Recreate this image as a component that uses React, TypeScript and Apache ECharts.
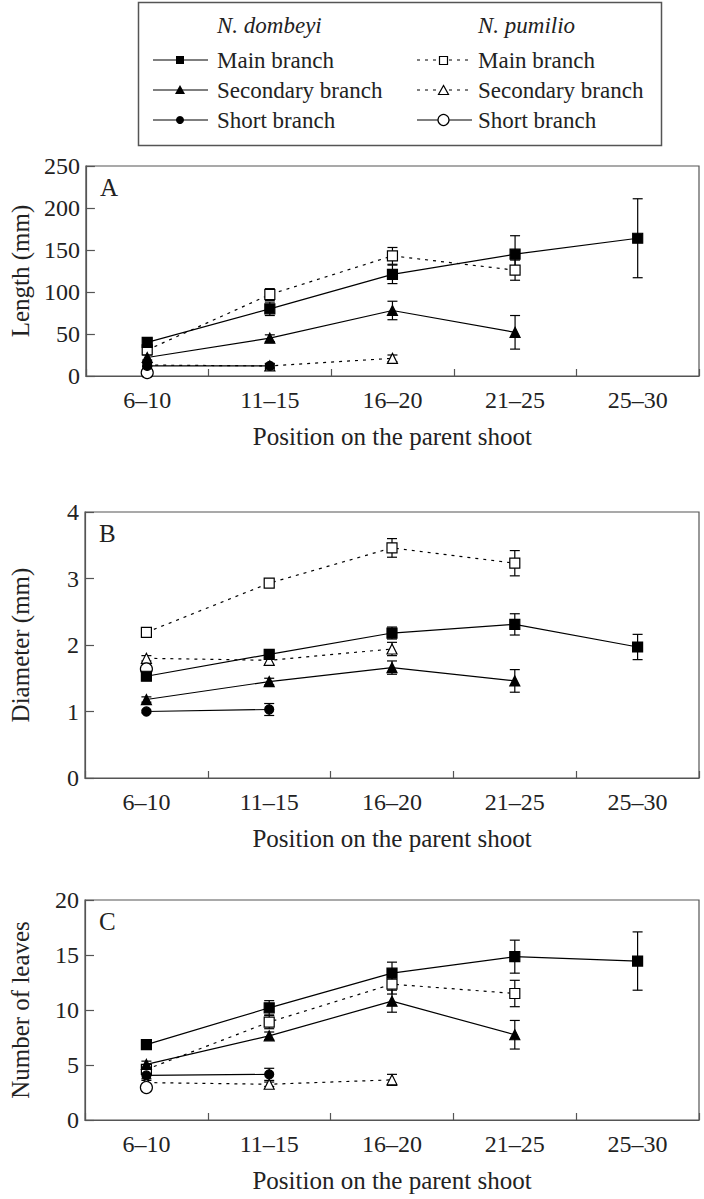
import React, { useEffect, useRef } from "react";
import * as echarts from "echarts";

const categories = ["6–10", "11–15", "16–20", "21–25", "25–30"];

// Panel A: Length (mm)
const dMainA = [40, 80, 121, 145, 164];
const dMainErrA = [4, 8, 11, 22, 47];
const dSecA = [22, 45, 78, 52];
const dSecErrA = [3, 4, 11, 20];
const dShortA = [12, 12];
const dShortErrA = [1, 3];
const pMainA = [31, 97, 143, 126];
const pMainErrA = [3, 7, 10, 12];
const pSecA = [13, 12, 21];
const pSecErrA = [2, 2, 4];
const pShortA = [4];
const pShortErrA = [1];

// Panel B: Diameter (mm)
const dMainB = [1.53, 1.86, 2.18, 2.31, 1.97];
const dMainErrB = [0.04, 0.05, 0.09, 0.16, 0.19];
const dSecB = [1.18, 1.45, 1.66, 1.46];
const dSecErrB = [0.04, 0.05, 0.1, 0.17];
const dShortB = [1.0, 1.03];
const dShortErrB = [0.02, 0.09];
const pMainB = [2.19, 2.93, 3.46, 3.23];
const pMainErrB = [0.04, 0.06, 0.14, 0.19];
const pSecB = [1.8, 1.77, 1.94];
const pSecErrB = [0.04, 0.06, 0.1];
const pShortB = [1.64];
const pShortErrB = [0.03];

// Panel C: Number of leaves
const dMainC = [6.85, 10.2, 13.35, 14.85, 14.45];
const dMainErrC = [0.3, 0.65, 1.0, 1.5, 2.65];
const dSecC = [5.05, 7.65, 10.8, 7.75];
const dSecErrC = [0.3, 0.35, 1.0, 1.3];
const dShortC = [4.05, 4.15];
const dShortErrC = [0.3, 0.55];
const pMainC = [4.6, 8.9, 12.35, 11.5];
const pMainErrC = [0.4, 0.6, 0.9, 1.2];
const pSecC = [3.4, 3.25, 3.65];
const pSecErrC = [0.2, 0.2, 0.5];
const pShortC = [2.95];
const pShortErrC = [0.3];

const yMaxes = [250, 4, 20];
const yIntervals = [50, 1, 5];
const yNames = ["Length (mm)", "Diameter (mm)", "Number of leaves"];
const panelLetters = ["A", "B", "C"];
const xName = "Position on the parent shoot";

const FONT = "Liberation Serif, Times New Roman, serif";
const TEXT = "#222";
const FRAME = "#555";

type SeriesDef = {
  values: number[];
  errs: number[];
  symbol: string;
  size: number;
  open: boolean;
  dotted: boolean;
};

function panelSeries(
  dMain: number[], dMainErr: number[], dSec: number[], dSecErr: number[],
  dShort: number[], dShortErr: number[], pMain: number[], pMainErr: number[],
  pSec: number[], pSecErr: number[], pShort: number[], pShortErr: number[]
): SeriesDef[] {
  return [
    { values: pMain, errs: pMainErr, symbol: "rect", size: 10, open: true, dotted: true },
    { values: pSec, errs: pSecErr, symbol: "triangle", size: 10, open: true, dotted: true },
    { values: pShort, errs: pShortErr, symbol: "circle", size: 12, open: true, dotted: false },
    { values: dMain, errs: dMainErr, symbol: "rect", size: 10, open: false, dotted: false },
    { values: dSec, errs: dSecErr, symbol: "triangle", size: 10, open: false, dotted: false },
    { values: dShort, errs: dShortErr, symbol: "circle", size: 9, open: false, dotted: false },
  ];
}

const panels = [
  panelSeries(dMainA, dMainErrA, dSecA, dSecErrA, dShortA, dShortErrA, pMainA, pMainErrA, pSecA, pSecErrA, pShortA, pShortErrA),
  panelSeries(dMainB, dMainErrB, dSecB, dSecErrB, dShortB, dShortErrB, pMainB, pMainErrB, pSecB, pSecErrB, pShortB, pShortErrB),
  panelSeries(dMainC, dMainErrC, dSecC, dSecErrC, dShortC, dShortErrC, pMainC, pMainErrC, pSecC, pSecErrC, pShortC, pShortErrC),
];

const gridBoxes = [
  { left: 78, top: 166, width: 621, height: 210 },
  { left: 77, top: 512, width: 622, height: 266 },
  { left: 77, top: 900, width: 622, height: 220 },
];

function errorRender(params: any, api: any) {
  const x = api.value(0);
  const y = api.value(1);
  const e = api.value(2);
  const top = api.coord([x, y + e]);
  const bot = api.coord([x, y - e]);
  const st = { stroke: "#000", lineWidth: 1.2 };
  return {
    type: "group",
    children: [
      { type: "line", shape: { x1: top[0], y1: top[1], x2: bot[0], y2: bot[1] }, style: st },
      { type: "line", shape: { x1: top[0] - 5, y1: top[1], x2: top[0] + 5, y2: top[1] }, style: st },
      { type: "line", shape: { x1: bot[0] - 5, y1: bot[1], x2: bot[0] + 5, y2: bot[1] }, style: st },
    ],
  };
}

function buildOption() {
  const grid: any[] = [];
  const xAxis: any[] = [];
  const yAxis: any[] = [];
  const series: any[] = [];
  const graphic: any[] = [];

  panels.forEach((defs, i) => {
    const g = gridBoxes[i];
    grid.push({ ...g, show: true, borderColor: FRAME, borderWidth: 1.2, backgroundColor: "transparent" });
    xAxis.push({
      type: "category",
      gridIndex: i,
      data: categories,
      boundaryGap: true,
      axisLine: { lineStyle: { color: FRAME, width: 1.2 } },
      axisTick: { show: true, inside: true, length: 7, interval: 0, lineStyle: { color: FRAME, width: 1.2 } },
      axisLabel: { interval: 0, margin: 12, fontFamily: FONT, fontSize: 24, color: TEXT },
      name: xName,
      nameLocation: "middle",
      nameGap: 48,
      nameTextStyle: { fontFamily: FONT, fontSize: 25, color: TEXT },
    });
    yAxis.push({
      type: "value",
      gridIndex: i,
      min: 0,
      max: yMaxes[i],
      interval: yIntervals[i],
      axisLine: { show: true, lineStyle: { color: FRAME, width: 1.2 } },
      axisTick: { show: true, inside: true, length: 9, lineStyle: { color: FRAME, width: 1.2 } },
      splitLine: { show: false },
      axisLabel: { margin: 6, fontFamily: FONT, fontSize: 24, color: TEXT },
      name: yNames[i],
      nameLocation: "middle",
      nameGap: 52,
      nameRotate: 90,
      nameTextStyle: { fontFamily: FONT, fontSize: 25, color: TEXT },
    });

    defs.forEach((d) => {
      series.push({
        type: "custom",
        xAxisIndex: i,
        yAxisIndex: i,
        renderItem: errorRender,
        encode: { x: 0, y: 1 },
        data: d.values.map((v, k) => [k, v, d.errs[k]]),
        z: 1,
        silent: true,
      });
    });
    defs.forEach((d) => {
      series.push({
        type: "line",
        xAxisIndex: i,
        yAxisIndex: i,
        data: d.values,
        symbol: d.symbol,
        symbolSize: d.size,
        showAllSymbol: true,
        lineStyle: { color: "#000", width: 1.2, type: d.dotted ? [3, 5] : "solid" },
        itemStyle: { color: d.open ? "#fff" : "#000", borderColor: "#000", borderWidth: 1.2 },
        z: d.open ? 2 : 3,
        silent: true,
      });
    });

    graphic.push({
      type: "text",
      left: g.left + 22,
      top: g.top + 9,
      style: { text: panelLetters[i], font: `25px ${FONT}`, fill: TEXT },
    });
  });

  // Legend box drawn with graphic elements
  const rowYs = [60, 90, 120];
  const labels = ["Main branch", "Secondary branch", "Short branch"];
  const leg: any[] = [
    { type: "rect", shape: { x: 138.5, y: 2.5, width: 523, height: 143 }, style: { fill: "#fff", stroke: FRAME, lineWidth: 1.5 } },
    { type: "text", style: { text: "N. dombeyi", x: 217, y: 25, verticalAlign: "middle", font: `italic 23px ${FONT}`, fill: TEXT } },
    { type: "text", style: { text: "N. pumilio", x: 478, y: 25, verticalAlign: "middle", font: `italic 23px ${FONT}`, fill: TEXT } },
  ];
  rowYs.forEach((y, r) => {
    leg.push({ type: "text", style: { text: labels[r], x: 217, y, verticalAlign: "middle", font: `23px ${FONT}`, fill: TEXT } });
    leg.push({ type: "text", style: { text: labels[r], x: 478, y, verticalAlign: "middle", font: `23px ${FONT}`, fill: TEXT } });
    leg.push({ type: "line", shape: { x1: 153, y1: y, x2: 208, y2: y }, style: { stroke: "#000", lineWidth: 1.2 } });
    leg.push({
      type: "line",
      shape: { x1: 417, y1: y, x2: 472, y2: y },
      style: { stroke: "#000", lineWidth: 1.2, lineDash: r === 2 ? null : [3, 5] },
    });
  });
  // left markers (filled)
  leg.push({ type: "rect", shape: { x: 176, y: 56, width: 8, height: 8 }, style: { fill: "#000" } });
  leg.push({ type: "polygon", shape: { points: [[180, 85], [175, 94], [185, 94]] }, style: { fill: "#000" } });
  leg.push({ type: "circle", shape: { cx: 180, cy: 120, r: 4 }, style: { fill: "#000" } });
  // right markers (open)
  leg.push({ type: "rect", shape: { x: 439.5, y: 56.5, width: 8, height: 8 }, style: { fill: "#fff", stroke: "#000", lineWidth: 1.2 } });
  leg.push({ type: "polygon", shape: { points: [[443.5, 85.5], [438.5, 94.5], [448.5, 94.5]] }, style: { fill: "#fff", stroke: "#000", lineWidth: 1.2 } });
  leg.push({ type: "circle", shape: { cx: 443.5, cy: 120, r: 5.5 }, style: { fill: "#fff", stroke: "#000", lineWidth: 1.2 } });

  graphic.push(...leg);

  return {
    animation: false,
    backgroundColor: "#fff",
    grid,
    xAxis,
    yAxis,
    series,
    graphic,
  };
}

export default function App() {
  const ref = useRef<HTMLDivElement>(null);
  useEffect(() => {
    if (!ref.current) return;
    const chart = echarts.init(ref.current, null, { renderer: "svg" });
    chart.setOption(buildOption() as any);
    return () => chart.dispose();
  }, []);
  return (
    <div
      ref={ref}
      style={{ position: "absolute", left: 0, top: 0, width: 704, height: 1199, background: "#fff" }}
    />
  );
}
